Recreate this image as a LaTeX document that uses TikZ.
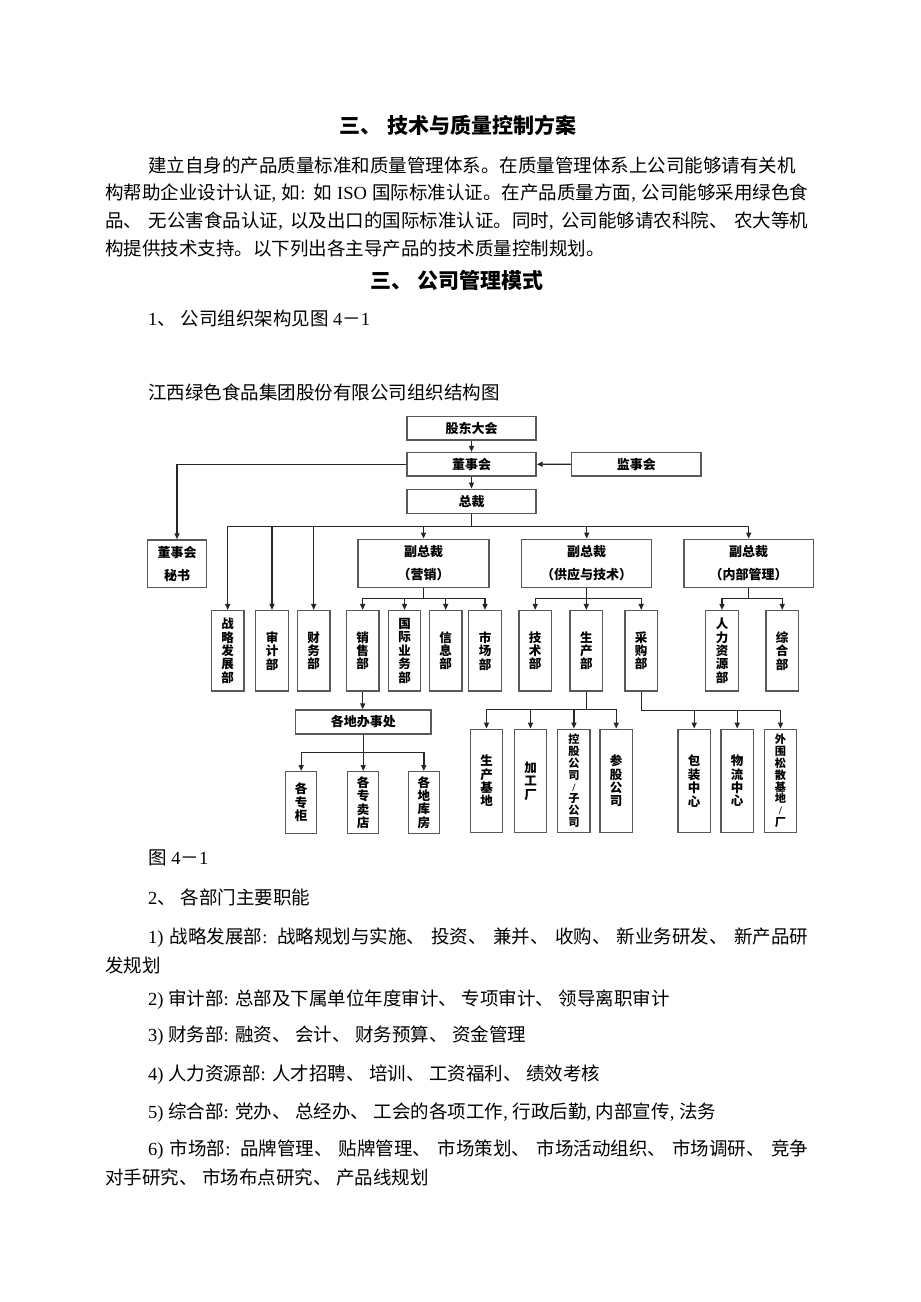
\documentclass[tikz,border=0pt]{standalone}
\usepackage{fontspec}
\setmainfont{Noto Sans CJK SC}
\newfontfamily\latfont{Liberation Serif}
\newcommand\lat[1]{{\latfont #1}}
\newcommand\fillline[2]{\makebox[#1bp][s]{#2}}
\usetikzlibrary{arrows.meta}
\XeTeXlinebreaklocale "zh"
\XeTeXlinebreakskip=0pt plus 2pt minus 0.3pt

\begin{document}
\begin{tikzpicture}[x=1bp,y=-1bp,>={Triangle[length=6bp,width=5bp]}]

  \tikzstyle{txt} = [anchor=west, inner sep=0, font=\fontsize{18.5bp}{27bp}\selectfont]
  \tikzstyle{head} = [inner sep=0, font=\bfseries\fontsize{21bp}{25bp}\selectfont]
  \tikzstyle{box} = [draw=black!65, line width=1.4, inner sep=0, align=center, font=\bfseries\fontsize{13bp}{23.5bp}\selectfont]
  \tikzstyle{vbox} = [box, minimum width=32.5bp, font=\bfseries\fontsize{12.5bp}{13.4bp}\selectfont]
  \tikzstyle{tall} = [vbox, minimum height=103.4bp]
  \tikzstyle{slim} = [tall, font=\bfseries\fontsize{11.2bp}{11.8bp}\selectfont]
  \tikzstyle{link} = [draw=black!85, line width=1.4]

  \fill[white] (0,0) rectangle (920,1302);

  % text above the chart
  \node[head] (h1) at (458,125) {三、\lat{ }技术与质量控制方案};
  \node[txt] (p1) at (148,165) {\fillline{660}{建立自身的产品质量标准和质量管理体系。在质量管理体系上公司能够请有关机}};
  \node[txt] (p2) at (105,193) {\fillline{703}{构帮助企业设计认证\lat{, }如\lat{: }如\lat{ ISO }国际标准认证。在产品质量方面\lat{, }公司能够采用绿色食}};
  \node[txt] (p3) at (105,221) {\fillline{703}{品、\lat{ }无公害食品认证\lat{, }以及出口的国际标准认证。同时\lat{, }公司能够请农科院、\lat{ }农大等机}};
  \node[txt] (p4) at (105,248) {构提供技术支持。以下列出各主导产品的技术质量控制规划。};
  \node[head] (h2) at (457,280) {三、\lat{ }公司管理模式};
  \node[txt] (s1) at (148,318) {\lat{1}、\lat{ }公司组织架构见图\lat{ 4}－\lat{1}};
  \node[txt] (ttl) at (148,392) {江西绿色食品集团股份有限公司组织结构图};

  % top of the chart
  \node[box, minimum width=129bp, minimum height=23.3bp] (gd) at (471.5,428.3) {股东大会};
  \node[box, minimum width=129bp, minimum height=23.3bp] (dsh) at (471.5,464.3) {董事会};
  \node[box, minimum width=129bp, minimum height=24bp] (zc) at (471.5,501.3) {总裁};
  \node[box, minimum width=129.3bp, minimum height=23.7bp] (jsh) at (636.3,464.2) {监事会};
  \node[box, minimum width=59.4bp, minimum height=47.7bp] (msh) at (177,563.8) {董事会\\秘书};

  \node[box, minimum width=131bp, minimum height=48bp] (vp1) at (423.5,563.3) {副总裁\\（营销）};
  \node[box, minimum width=130bp, minimum height=48bp] (vp2) at (586.7,563.3) {副总裁\\（供应与技术）};
  \node[box, minimum width=129.3bp, minimum height=48bp] (vp3) at (748.7,563.3) {副总裁\\（内部管理）};

  % departments
  \node[vbox, minimum height=80.3bp] (d1) at (227.7,650.8) {战\\略\\发\\展\\部};
  \node[vbox, minimum height=80.3bp] (d2) at (272,650.8) {审\\计\\部};
  \node[vbox, minimum height=80.3bp] (d3) at (313.7,650.8) {财\\务\\部};
  \node[vbox, minimum height=80.3bp] (d4) at (362.7,650.8) {销\\售\\部};
  \node[vbox, minimum height=80.3bp] (d5) at (404.5,650.8) {国\\际\\业\\务\\部};
  \node[vbox, minimum height=80.3bp] (d6) at (445.7,650.8) {信\\息\\部};
  \node[vbox, minimum height=80.3bp] (d7) at (485,650.8) {市\\场\\部};
  \node[vbox, minimum height=80.3bp] (d8) at (535.2,650.8) {技\\术\\部};
  \node[vbox, minimum height=80.3bp] (d9) at (586.3,650.8) {生\\产\\部};
  \node[vbox, minimum height=80.3bp] (d10) at (641.2,650.8) {采\\购\\部};
  \node[vbox, minimum height=80.3bp] (d11) at (722,650.8) {人\\力\\资\\源\\部};
  \node[vbox, minimum height=80.3bp] (d12) at (782.2,650.8) {综\\合\\部};

  % lower units
  \node[box, minimum width=135.3bp, minimum height=24bp] (bsc) at (363.3,722) {各地办事处};
  \node[vbox, minimum width=31bp, minimum height=61.6bp] (u1) at (301.2,802.5) {各\\专\\柜};
  \node[vbox, minimum width=31bp, minimum height=61.6bp] (u2) at (363.2,802.5) {各\\专\\卖\\店};
  \node[vbox, minimum width=31bp, minimum height=61.6bp] (u3) at (423.8,802.5) {各\\地\\库\\房};

  \node[tall] (f1) at (486.5,781) {生\\产\\基\\地};
  \node[tall] (f2) at (530.5,781) {加\\工\\厂};
  \node[slim] (f3) at (573.9,781) {控\\股\\公\\司\\\lat{/}\\子\\公\\司};
  \node[tall] (f4) at (616.2,781) {参\\股\\公\\司};

  \node[tall] (c1) at (694.2,781) {包\\装\\中\\心};
  \node[tall] (c2) at (737.2,781) {物\\流\\中\\心};
  \node[slim] (c3) at (780.5,781) {外\\围\\松\\散\\基\\地\\\lat{/}\\厂};

  % connectors
  \coordinate (bus0) at (0,526.7);
  \coordinate (bus1) at (0,598.3);
  \coordinate (bus2) at (0,752.7);
  \coordinate (bus3) at (0,709.3);
  \coordinate (bus4) at (0,710.7);

  \draw[link, ->] (gd) -- (dsh);
  \draw[link, ->] (dsh) -- (zc);
  \draw[link, ->] (jsh) -- (dsh);
  \draw[link, ->] (dsh.west) -| (msh.north);

  \foreach \n in {d1,d2,d3,vp1,vp2,vp3}
    \draw[link, ->] (zc.south) |- (\n.north |- bus0) -- (\n.north);
  \foreach \n in {d4,d5,d6,d7}
    \draw[link, ->] (vp1.south) |- (\n.north |- bus1) -- (\n.north);
  \foreach \n in {d8,d9,d10}
    \draw[link, ->] (vp2.south) |- (\n.north |- bus1) -- (\n.north);
  \foreach \n in {d11,d12}
    \draw[link, ->] (vp3.south) |- (\n.north |- bus1) -- (\n.north);

  \draw[link, ->] (d4.south) -- (d4.south |- bsc.north);
  \foreach \n in {u1,u2,u3}
    \draw[link, ->] (bsc.south) |- (\n.north |- bus2) -- (\n.north);
  \foreach \n in {f1,f2,f3,f4}
    \draw[link, ->] (d9.south) |- (\n.north |- bus3) -- (\n.north);
  \foreach \n in {c1,c2,c3}
    \draw[link, ->] (d10.south) |- (\n.north |- bus4) -- (\n.north);

  % text below the chart
  \node[txt] (cap) at (148,858) {图\lat{ 4}－\lat{1}};
  \node[txt] (s2) at (148,897) {\lat{2}、\lat{ }各部门主要职能};
  \node[txt] (i1) at (148,938) {\fillline{660}{\lat{1) }战略发展部\lat{: }战略规划与实施、\lat{ }投资、\lat{ }兼并、\lat{ }收购、\lat{ }新业务研发、\lat{ }新产品研}};
  \node[txt] (i1b) at (105,965) {发规划};
  \node[txt] (i2) at (148,1000) {\lat{2) }审计部\lat{: }总部及下属单位年度审计、\lat{ }专项审计、\lat{ }领导离职审计};
  \node[txt] (i3) at (148,1036) {\lat{3) }财务部\lat{: }融资、\lat{ }会计、\lat{ }财务预算、\lat{ }资金管理};
  \node[txt] (i4) at (148,1075) {\lat{4) }人力资源部\lat{: }人才招聘、\lat{ }培训、\lat{ }工资福利、\lat{ }绩效考核};
  \node[txt] (i5) at (148,1113) {\lat{5) }综合部\lat{: }党办、\lat{ }总经办、\lat{ }工会的各项工作\lat{, }行政后勤\lat{, }内部宣传\lat{, }法务};
  \node[txt] (i6) at (148,1150) {\fillline{660}{\lat{6) }市场部\lat{: }品牌管理、\lat{ }贴牌管理、\lat{ }市场策划、\lat{ }市场活动组织、\lat{ }市场调研、\lat{ }竞争}};
  \node[txt] (i6b) at (105,1177) {对手研究、\lat{ }市场布点研究、\lat{ }产品线规划};

\end{tikzpicture}
\end{document}
